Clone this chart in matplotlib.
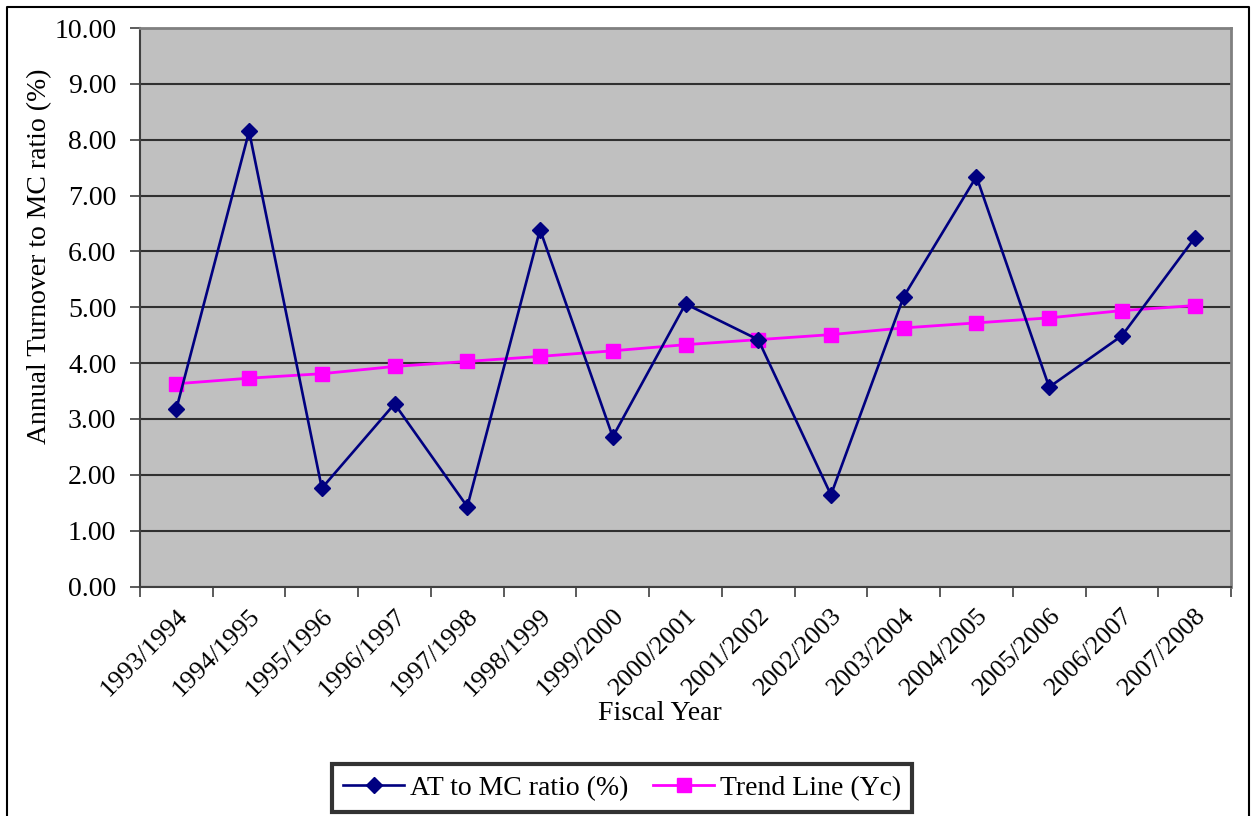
import matplotlib
matplotlib.use("Agg")
import matplotlib.pyplot as plt
from matplotlib.lines import Line2D

years = ["1993/1994", "1994/1995", "1995/1996", "1996/1997", "1997/1998",
         "1998/1999", "1999/2000", "2000/2001", "2001/2002", "2002/2003",
         "2003/2004", "2004/2005", "2005/2006", "2006/2007", "2007/2008"]
at_mc_ratio = [3.18, 8.15, 1.76, 3.27, 1.43, 6.39, 2.68, 5.06, 4.42, 1.64,
               5.19, 7.34, 3.57, 4.49, 6.24]
trend_yc = [3.63, 3.73, 3.81, 3.94, 4.03, 4.12, 4.22, 4.33, 4.42, 4.51,
            4.63, 4.72, 4.81, 4.94, 5.03]
y_ticks = [0, 1, 2, 3, 4, 5, 6, 7, 8, 9, 10]

plt.rcParams['font.family'] = ['Liberation Serif', 'DejaVu Serif']

W, H = 1254, 816
fig = plt.figure(figsize=(W / 100, H / 100), dpi=100)
fig.patch.set_facecolor('white')

ax = fig.add_axes([140 / W, (H - 586.5) / H, (1231 - 140) / W, (586.5 - 28) / H])
ax.set_facecolor('#C0C0C0')

x = list(range(len(years)))
ax.plot(x, at_mc_ratio, color='#000080', lw=1.9, marker='D', markersize=8,
        markerfacecolor='#000080', markeredgecolor='#000080',
        label='AT to MC ratio (%)', zorder=4)
ax.plot(x, trend_yc, color='#FF00FF', lw=2.0, marker='s', markersize=10,
        markerfacecolor='#FF00FF', markeredgecolor='#FF00FF',
        label='Trend Line (Yc)', zorder=3)

ax.set_xlim(-0.5, len(years) - 0.5)
ax.set_ylim(0, 10)
ax.set_yticks(y_ticks)
ax.set_yticklabels([f"{v:.2f}" for v in y_ticks])
ax.yaxis.grid(True, color='#303030', lw=1.5)
ax.set_axisbelow(True)

ax.set_xticks(x)
ax.set_xticklabels(years, rotation=45, ha='right', va='top', rotation_mode='anchor')
ax.set_xticks([i - 0.5 for i in range(len(years) + 1)], minor=True)
ax.tick_params(axis='x', which='major', length=0, pad=13, labelsize=19)
ax.tick_params(axis='x', which='minor', length=7, width=1.2, color='#404040', direction='out')
ax.tick_params(axis='y', length=7, width=1.2, color='#404040', pad=10, labelsize=20)

for side in ['left', 'bottom']:
    ax.spines[side].set_color('#404040')
    ax.spines[side].set_linewidth(1.5)
for side in ['top', 'right']:
    ax.spines[side].set_color('#808080')
    ax.spines[side].set_linewidth(2)

ax.set_ylabel('Annual Turnover to MC ratio (%)', fontsize=20)
ax.yaxis.set_label_coords((40 - 140) / (1231 - 140), (586.5 - 256) / 558.5)
ax.yaxis.label.set_va('center')
ax.set_xlabel('Fiscal Year', fontsize=20)
ax.xaxis.set_label_coords((660 - 140) / (1231 - 140), (586.5 - 713) / 558.5)
ax.xaxis.label.set_va('center')

leg = fig.legend(loc='center', ncol=2, fontsize=20,
                 bbox_to_anchor=(622 / W, (H - 788) / H),
                 frameon=True, fancybox=False, edgecolor='black',
                 handlelength=2.2, handletextpad=0.2, columnspacing=0.9,
                 borderpad=0.4)
leg.get_frame().set_linewidth(3)

# outer figure border (bottom is cut off in the reference)
fig.add_artist(Line2D([7 / W, 7 / W, 1249 / W, 1249 / W], [0, (H - 7) / H, (H - 7) / H, 0],
                      transform=fig.transFigure, color='black', lw=1.5))

fig.savefig('out.png', dpi=100)
